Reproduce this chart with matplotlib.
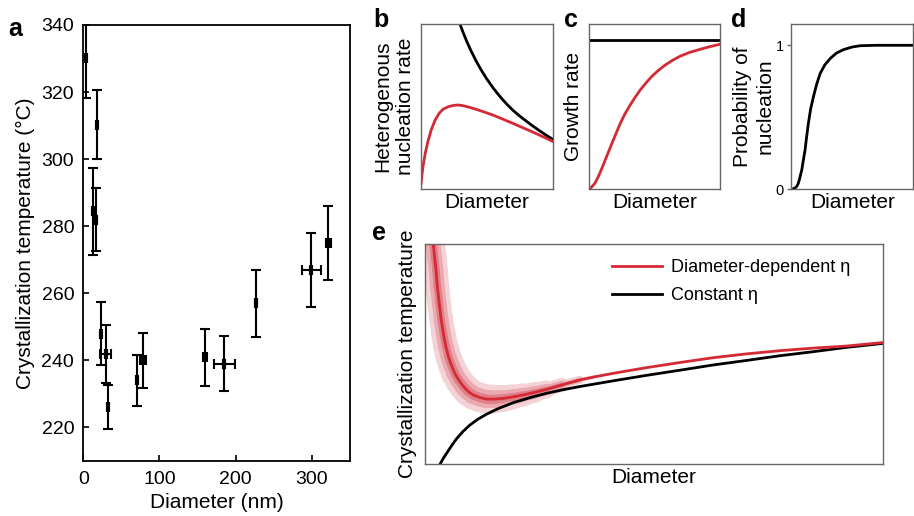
import numpy as np
import matplotlib
matplotlib.use("Agg")
import matplotlib.pyplot as plt
from matplotlib.collections import LineCollection

plt.rcParams['font.family'] = ['Liberation Sans', 'DejaVu Sans']

# panel a: measured crystallization temperatures
diam_nm = [4, 17.6, 12.8, 16.3, 22.9, 29.5, 32.5, 71, 79, 160, 185, 227, 299.6, 322]
temp_c = [330.1, 310.3, 284.5, 282, 248, 242, 226, 234, 240, 241, 239, 257, 267, 275]
temp_err = [11.8, 10.3, 13, 9.5, 9.3, 8.6, 6.6, 7.6, 8.3, 8.5, 8.2, 10, 11, 11]
diam_err = [0, 0, 0, 0, 0, 7, 0, 0, 4, 3, 13.7, 0, 12.5, 3]

# panel b: heterogeneous nucleation rate (schematic, normalised)
b_black_x = [0.298, 0.32, 0.35, 0.38, 0.42, 0.46, 0.50, 0.55, 0.60, 0.65, 0.70, 0.75,
             0.80, 0.85, 0.90, 0.95, 1.0]
b_black_y = [1.0, 0.953, 0.894, 0.841, 0.777, 0.720, 0.669, 0.612, 0.562, 0.517, 0.477, 0.443,
             0.412, 0.382, 0.354, 0.327, 0.302]
b_red_x = [0.003, 0.010, 0.020, 0.035, 0.055, 0.08, 0.11, 0.14, 0.17, 0.21, 0.25, 0.285,
           0.32, 0.37, 0.42, 0.48, 0.55, 0.62, 0.70, 0.78, 0.86, 0.93, 1.0]
b_red_y = [0.034, 0.09, 0.15, 0.22, 0.29, 0.36, 0.42, 0.46, 0.485, 0.50, 0.508, 0.510,
           0.506, 0.496, 0.484, 0.468, 0.448, 0.425, 0.398, 0.370, 0.342, 0.316, 0.289]

# panel c: growth rate
c_black_x = [0.0, 1.0]
c_black_y = [0.907, 0.907]
c_red_x = [0.0, 0.02, 0.048, 0.075, 0.101, 0.13, 0.162, 0.2, 0.238, 0.275, 0.315, 0.35,
           0.391, 0.435, 0.482, 0.53, 0.581, 0.635, 0.695, 0.77, 0.848, 0.92, 1.0]
c_red_y = [0.0, 0.01, 0.036, 0.078, 0.127, 0.185, 0.248, 0.322, 0.394, 0.455, 0.509, 0.553,
           0.600, 0.643, 0.685, 0.720, 0.752, 0.780, 0.806, 0.830, 0.848, 0.864, 0.879]

# panel d: probability of nucleation
d_x = [0.014, 0.035, 0.050, 0.060, 0.070, 0.080, 0.088, 0.100, 0.115, 0.128, 0.142, 0.160,
       0.183, 0.210, 0.238, 0.275, 0.320, 0.370, 0.429, 0.50, 0.566, 0.7, 1.0]
d_y = [0.0, 0.008, 0.022, 0.040, 0.070, 0.105, 0.132, 0.195, 0.271, 0.365, 0.456, 0.555,
       0.641, 0.73, 0.803, 0.862, 0.908, 0.945, 0.970, 0.988, 0.997, 1.0, 1.0]

# panel e: model crystallization temperature
e_black_x = [0.033, 0.040, 0.047, 0.057, 0.069, 0.083, 0.098, 0.115, 0.135, 0.160, 0.193, 0.230,
             0.265, 0.300, 0.338, 0.411, 0.484, 0.556, 0.629, 0.700, 0.775, 0.850, 0.920, 1.0]
e_black_y = [0.0, 0.026, 0.048, 0.080, 0.115, 0.148, 0.177, 0.203, 0.227, 0.252, 0.279, 0.302,
             0.321, 0.337, 0.352, 0.378, 0.403, 0.426, 0.450, 0.470, 0.492, 0.511, 0.530, 0.548]
e_red_x = [0.018, 0.021, 0.024, 0.027, 0.031, 0.035, 0.040, 0.045, 0.051, 0.058,
           0.065, 0.074, 0.084, 0.094, 0.105, 0.120, 0.135, 0.152, 0.171, 0.192,
           0.215, 0.240, 0.265, 0.300, 0.338, 0.370, 0.411, 0.450, 0.484, 0.556,
           0.629, 0.700, 0.775, 0.850, 0.920, 1.0]
e_red_y = [1.0, 0.94, 0.882, 0.805, 0.730, 0.660, 0.594, 0.538, 0.488, 0.447,
           0.412, 0.380, 0.352, 0.330, 0.314, 0.302, 0.295, 0.295, 0.298, 0.305,
           0.314, 0.326, 0.339, 0.360, 0.382, 0.396, 0.412, 0.426, 0.438, 0.461,
           0.483, 0.500, 0.515, 0.527, 0.536, 0.552]
e_red_spread = [17, 17, 17, 17, 17, 17, 17.5, 18, 18.5, 19,
                19.5, 20, 20.5, 21, 21, 21, 21, 20, 19, 17.5,
                16, 14, 12, 8, 4, 1.5, 0, 0, 0, 0,
                0, 0, 0, 0, 0, 0]

RED = '#d42a35'
GREY = '#666666'

fig = plt.figure(figsize=(9.14, 5.16), dpi=100)

# ---- a
ax = fig.add_axes([0.0911, 0.1066, 0.2916, 0.845])
ax.errorbar(diam_nm, temp_c, yerr=temp_err, fmt='none', ecolor='black',
            elinewidth=1.5, capsize=3.8, capthick=1.5)
xe = [i for i, e in enumerate(diam_err) if e > 0]
ax.errorbar([diam_nm[i] for i in xe], [temp_c[i] for i in xe],
            xerr=[diam_err[i] for i in xe], fmt='none', ecolor='black',
            elinewidth=1.5, capsize=3.8, capthick=1.5)
ax.plot(diam_nm, temp_c, ls='none', marker='|', color='black', ms=7, mew=3)
ax.set_xlim(0, 350)
ax.set_ylim(210, 340)
ax.set_xticks([0, 100, 200, 300])
ax.set_yticks([220, 240, 260, 280, 300, 320, 340])
ax.tick_params(direction='in', length=4, width=1.2, labelsize=14)
ax.tick_params(axis='x', pad=7)
ax.tick_params(axis='y', pad=6.5)
for s in ax.spines.values():
    s.set_linewidth(1.3)
ax.set_xlabel('Diameter (nm)', fontsize=15, labelpad=4)
ax.set_ylabel('Crystallization temperature (°C)', fontsize=15, labelpad=5)


def schematic(rect):
    a = fig.add_axes(rect)
    a.set_xticks([])
    a.set_yticks([])
    for s in a.spines.values():
        s.set_color(GREY)
        s.set_linewidth(1.0)
    return a


# ---- b
axb = schematic([0.4603, 0.6337, 0.1444, 0.3192])
axb.plot(b_black_x, b_black_y, color='black', lw=2)
axb.plot(b_red_x, b_red_y, color=RED, lw=2)
axb.set_xlim(0, 1)
axb.set_ylim(0, 1)
axb.set_xlabel('Diameter', fontsize=15, labelpad=3)
axb.set_ylabel('Heterogenous\nnucleation rate', fontsize=15, labelpad=4, linespacing=1.25)

# ---- c
axc = schematic([0.6441, 0.6337, 0.1437, 0.3192])
axc.plot(c_black_x, c_black_y, color='black', lw=2)
axc.plot(c_red_x, c_red_y, color=RED, lw=2)
axc.set_xlim(0, 1)
axc.set_ylim(0, 1)
axc.set_xlabel('Diameter', fontsize=15, labelpad=3)
axc.set_ylabel('Growth rate', fontsize=15, labelpad=4)

# ---- d
axd = schematic([0.8654, 0.6337, 0.1340, 0.3192])
axd.plot(d_x, d_y, color='black', lw=2)
axd.set_xlim(0, 1)
axd.set_ylim(0, 1.146)
axd.set_yticks([0, 1])
axd.set_yticklabels(['0', '1'])
axd.tick_params(axis='y', length=3, width=1, color=GREY, labelsize=10.5, pad=2)
axd.set_xlabel('Diameter', fontsize=15, labelpad=3)
axd.set_ylabel('Probability of\nnucleation', fontsize=15, labelpad=1, linespacing=1.25)

# ---- e
axe = schematic([0.465, 0.1008, 0.5011, 0.4264])
pts = np.column_stack([e_red_x, e_red_y])
segs = np.stack([pts[:-1], pts[1:]], axis=1)
spread = np.array(e_red_spread)
seg_w = (spread[:-1] + spread[1:]) / 2
for factor, col in [(1.0, '#f4d3d6'), (0.62, '#eaaab0'), (0.32, '#df7f88')]:
    lc = LineCollection(segs, linewidths=seg_w * factor, colors=col, capstyle='round',
                        joinstyle='round')
    axe.add_collection(lc)
axe.plot(e_black_x, e_black_y, color='black', lw=2, label='Constant η')
axe.plot(e_red_x, e_red_y, color=RED, lw=2, label='Diameter-dependent η')
axe.set_xlim(0, 1)
axe.set_ylim(0, 1)
handles, labels = axe.get_legend_handles_labels()
axe.legend(handles[::-1], labels[::-1], loc='upper right', frameon=False, fontsize=13,
           handlelength=2.8, handletextpad=0.5, labelspacing=0.6,
           bbox_to_anchor=(0.965, 1.005))
axe.set_xlabel('Diameter', fontsize=15, labelpad=3)
axe.set_ylabel('Crystallization temperature', fontsize=15, labelpad=6)

# panel letters
for letter, x, y in [('a', 0.009, 0.930), ('b', 0.409, 0.947), ('c', 0.617, 0.948),
                     ('d', 0.800, 0.948), ('e', 0.407, 0.535)]:
    fig.text(x, y, letter, fontsize=18, fontweight='bold', va='baseline')

fig.savefig('out.png', dpi=100)
